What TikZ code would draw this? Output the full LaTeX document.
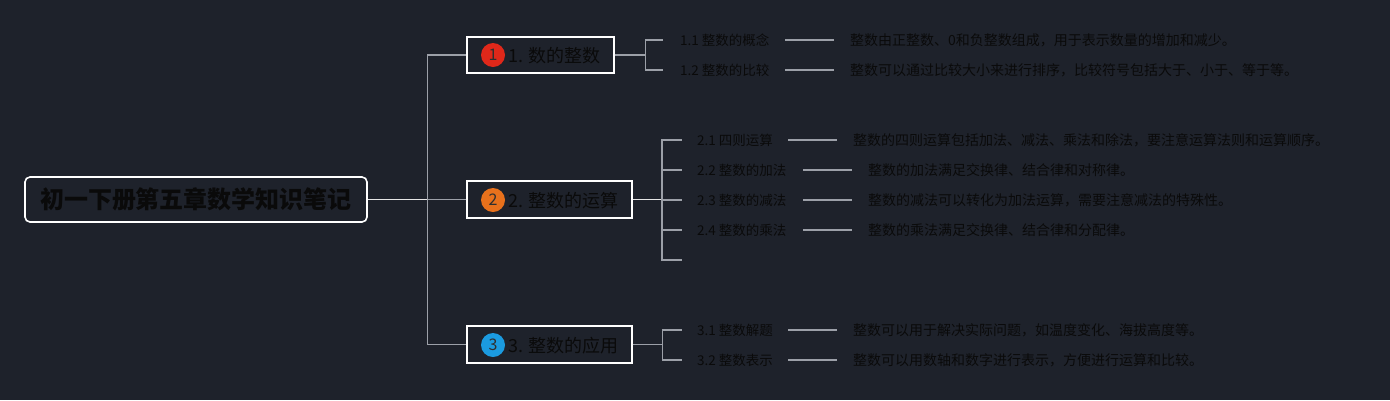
\documentclass[tikz,border=0pt]{standalone}
\usepackage{fontspec}
\setmainfont{Noto Sans CJK SC}
\definecolor{bg}{HTML}{1E222B}
\definecolor{ln}{HTML}{9CA0A8}
\definecolor{lnw}{HTML}{E6E6E6}
\definecolor{txt}{HTML}{0A0A0A}
\definecolor{cred}{HTML}{E0281A}
\definecolor{corg}{HTML}{E8711C}
\definecolor{cblu}{HTML}{1B9BE0}
\tikzset{
  rootbox/.style={draw=white, line width=1.6pt, rounded corners=5pt, minimum width=342pt, minimum height=45pt, inner sep=0pt, text=txt, font=\fontsize{24}{28}\selectfont\bfseries},
  topicbox/.style={draw=white, line width=1.6pt, minimum height=36pt, inner sep=0pt},
  topictext/.style={anchor=west, inner sep=0pt, text=txt, font=\fontsize{18}{22}\selectfont},
  badge/.style={circle, minimum size=24pt, inner sep=0pt, text=txt!85!white, font=\fontsize{16}{18}\selectfont},
  lbl/.style={anchor=west, inner sep=0pt, text=txt, font=\fontsize{13.5}{16}\selectfont},
  desc/.style={anchor=west, inner sep=0pt, text=txt, font=\fontsize{14}{16}\selectfont},
  conn/.style={draw=ln, line width=1.3pt},
  connw/.style={draw=lnw, line width=1.3pt},
}
\begin{document}
\begin{tikzpicture}[x=1pt,y=-1pt]
\fill[bg] (0,0) rectangle (1390,400);
\useasboundingbox (0,0) rectangle (1390,400);

% root
\node[rootbox] (root) at (196,199.5) {初一下册第五章数学知识笔记};

% topic boxes
\node[topicbox, minimum width=147pt] (b1) at (540.5,55) {};
\node[topicbox, minimum width=165pt, minimum height=37pt] (b2) at (549.5,199.5) {};
\node[topicbox, minimum width=165pt, minimum height=37pt] (b3) at (549.5,344.5) {};
\node[badge, fill=cred] (c1) at (493,55) {1};
\node[badge, fill=corg] (c2) at (493,200) {2};
\node[badge, fill=cblu] (c3) at (493,345) {3};
\node[topictext] (t1) at (508,56) {1. 数的整数};
\node[topictext] (t2) at (508,201) {2. 整数的运算};
\node[topictext] (t3) at (508,346) {3. 整数的应用};

% trunk
\draw[connw] (root.east) -- (428,199.5);
\draw[conn] (b1.west) -- ++(-39,0) |- (b3.west);
\draw[conn] (428,199.5) -- (b2.west);

% branch 1
\coordinate (s11) at (663,40);
\coordinate (s12) at (663,70);
\draw[conn] (b1.east) -- ++(31,0) |- (s11);
\draw[conn] (b1.east) -- ++(31,0) |- (s12);
\node[lbl] (l11) at (680,40) {1.1 整数的概念};
\node[lbl] (l12) at (680,70) {1.2 整数的比较};
\node[desc] (d11) at (850,40) {整数由正整数、0和负整数组成，用于表示数量的增加和减少。};
\node[desc] (d12) at (850,70) {整数可以通过比较大小来进行排序，比较符号包括大于、小于、等于等。};
\draw[conn] ([xshift=-65pt]d11.west) -- ([xshift=-16pt]d11.west);
\draw[conn] ([xshift=-65pt]d12.west) -- ([xshift=-16pt]d12.west);

% branch 2
\coordinate (s21) at (682,140);
\coordinate (s22) at (682,170);
\coordinate (s23) at (682,200);
\coordinate (s24) at (682,230);
\coordinate (s25) at (682,260);
\draw[connw] (b2.east) -- (662,199.5);
\draw[conn] (662,199.5) |- (s21);
\draw[conn] (662,199.5) |- (s25);
\draw[conn] (662,170) -- (s22);
\draw[conn] (662,200) -- (s23);
\draw[conn] (662,230) -- (s24);
\node[lbl] (l21) at (697,140) {2.1 四则运算};
\node[lbl] (l22) at (697,170) {2.2 整数的加法};
\node[lbl] (l23) at (697,200) {2.3 整数的减法};
\node[lbl] (l24) at (697,230) {2.4 整数的乘法};
\node[desc] (d21) at (853,140) {整数的四则运算包括加法、减法、乘法和除法，要注意运算法则和运算顺序。};
\node[desc] (d22) at (868,170) {整数的加法满足交换律、结合律和对称律。};
\node[desc] (d23) at (868,200) {整数的减法可以转化为加法运算，需要注意减法的特殊性。};
\node[desc] (d24) at (868,230) {整数的乘法满足交换律、结合律和分配律。};
\foreach \d in {d21,d22,d23,d24}
  \draw[conn] ([xshift=-65pt]\d.west) -- ([xshift=-16pt]\d.west);

% branch 3
\coordinate (s31) at (682,330);
\coordinate (s32) at (682,360);
\draw[conn] (b3.east) -- ++(30,0) |- (s31);
\draw[conn] (b3.east) -- ++(30,0) |- (s32);
\node[lbl] (l31) at (697,330) {3.1 整数解题};
\node[lbl] (l32) at (697,360) {3.2 整数表示};
\node[desc] (d31) at (853,330) {整数可以用于解决实际问题，如温度变化、海拔高度等。};
\node[desc] (d32) at (853,360) {整数可以用数轴和数字进行表示，方便进行运算和比较。};
\draw[conn] ([xshift=-65pt]d31.west) -- ([xshift=-16pt]d31.west);
\draw[conn] ([xshift=-65pt]d32.west) -- ([xshift=-16pt]d32.west);
\end{tikzpicture}
\end{document}
